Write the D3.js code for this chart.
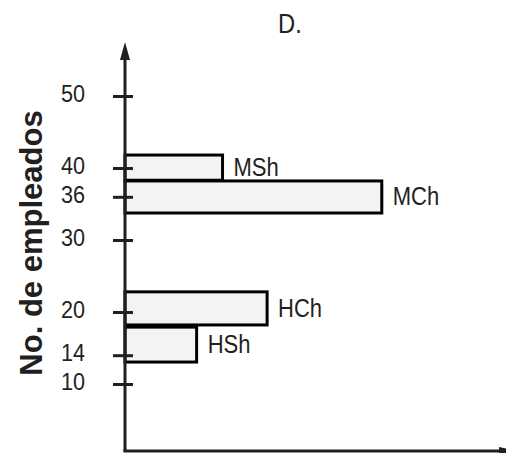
<!DOCTYPE html>
<html>
<head>
<meta charset="utf-8">
<script src="https://cdn.jsdelivr.net/npm/d3@7"></script>
<style>
  html, body { margin: 0; padding: 0; background: #fff; }
  svg text { font-family: "Liberation Sans", Arial, sans-serif; fill: #231f20; }
</style>
</head>
<body>
<div id="chart"></div>
<script>
// Chart data
const groups = ["MSh", "MCh", "HCh", "HSh"];
const lengths = [2.56, 6.74, 3.73, 1.88];          // bar length (no x scale shown)
const barTop = [41.8, 38.2, 22.8, 17.9];            // upper edge, employees
const barBottom = [38.3, 33.75, 18.2, 13.05];       // lower edge, employees
const yTicks = [10, 14, 20, 30, 36, 40, 50];

const width = 506, height = 453;
const axisX = 125, axisBottom = 451;
const ink = "#231f20";
const squeeze = 0.88;   // the original lettering is a bit narrower than Arial

const svg = d3.select("#chart")
    .append("svg")
    .attr("width", width)
    .attr("height", height);

const x = d3.scaleLinear().domain([0, 10]).range([axisX, 506]);
const y = d3.scaleLinear().domain([0, 50]).range([456, 96]);

const data = groups.map((g, i) => ({
    name: g, len: lengths[i], top: barTop[i], bottom: barBottom[i]
}));

// Bars
svg.append("g")
    .selectAll("rect")
    .data(data)
    .enter()
    .append("rect")
    .attr("x", x(0))
    .attr("y", d => y(d.top))
    .attr("width", d => x(d.len) - x(0))
    .attr("height", d => y(d.bottom) - y(d.top))
    .style("fill", "#f5f2f2")
    .style("stroke", "#000")
    .style("stroke-width", 3);

// Bar labels
svg.append("g")
    .selectAll("text")
    .data(data)
    .enter()
    .append("text")
    .attr("transform", d =>
        `translate(${x(d.len) + 11},${(y(d.top) + y(d.bottom)) / 2 + 8.5}) scale(${squeeze},1)`)
    .style("font-size", "25px")
    .text(d => d.name);

// Y axis ticks and labels (ticks cross the axis line)
const yAxis = svg.append("g")
    .attr("transform", `translate(${axisX},0)`)
    .call(d3.axisLeft(y).tickValues(yTicks).tickSize(12));
yAxis.select(".domain").remove();
yAxis.selectAll(".tick line")
    .attr("x1", -12).attr("x2", 8)
    .style("stroke", ink).style("stroke-width", 3);
yAxis.selectAll(".tick text")
    .attr("x", null)
    .attr("dy", null)
    .attr("transform", `translate(-40,5.6) scale(0.9,1)`)
    .style("font-size", "24px")
    .style("font-family", "Liberation Sans, Arial, sans-serif")
    .style("fill", ink);

// Axis lines with arrow heads
svg.append("line")
    .attr("x1", axisX).attr("x2", axisX)
    .attr("y1", axisBottom + 1).attr("y2", 56)
    .style("stroke", ink).style("stroke-width", 3);
svg.append("path")
    .attr("d", `M${axisX},42 L${axisX - 5},60 L${axisX + 5},60 Z`)
    .style("fill", ink);

svg.append("line")
    .attr("x1", axisX - 1.5).attr("x2", 506)
    .attr("y1", axisBottom).attr("y2", axisBottom)
    .style("stroke", ink).style("stroke-width", 3);
svg.append("path")
    .attr("d", `M517,${axisBottom} L499,${axisBottom - 4} L499,${axisBottom + 4} Z`)
    .style("fill", ink);

// Title
svg.append("text")
    .attr("transform", `translate(290,33) scale(0.85,1)`)
    .attr("text-anchor", "middle")
    .style("font-size", "28px")
    .text("D.");

// Y axis label
svg.append("text")
    .attr("transform", "rotate(-90)")
    .attr("x", -243)
    .attr("y", 42)
    .attr("text-anchor", "middle")
    .style("font-size", "31px")
    .style("font-weight", "bold")
    .text("No. de empleados");
</script>
</body>
</html>
